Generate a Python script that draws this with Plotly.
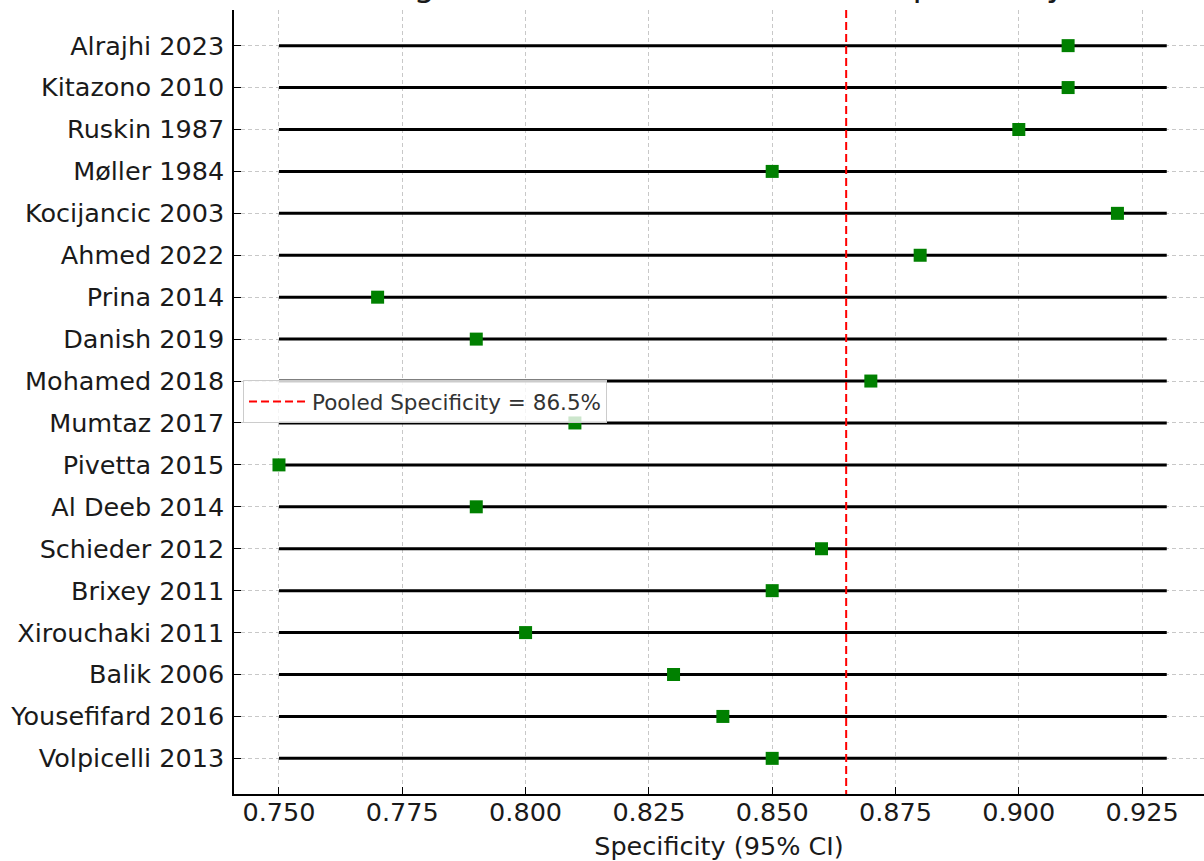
import plotly.graph_objects as go

studies = ["Alrajhi 2023", "Kitazono 2010", "Ruskin 1987", "Møller 1984", "Kocijancic 2003",
           "Ahmed 2022", "Prina 2014", "Danish 2019", "Mohamed 2018", "Mumtaz 2017",
           "Pivetta 2015", "Al Deeb 2014", "Schieder 2012", "Brixey 2011", "Xirouchaki 2011",
           "Balik 2006", "Yousefifard 2016", "Volpicelli 2013"]
specificity = [0.91, 0.91, 0.90, 0.85, 0.92, 0.88, 0.77, 0.79, 0.87, 0.81,
               0.75, 0.79, 0.86, 0.85, 0.80, 0.83, 0.84, 0.85]
ci_lower = [0.75] * 18
ci_upper = [0.93] * 18
pooled = 0.865
x_ticks = [0.750, 0.775, 0.800, 0.825, 0.850, 0.875, 0.900, 0.925]
title_text = "Diagnostic Studies with Pooled Specificity"

FONT = "DejaVu Sans"
pos = list(range(len(studies)))

line_x, line_y = [], []
for i, (lo, hi) in enumerate(zip(ci_lower, ci_upper)):
    line_x += [lo, hi, None]
    line_y += [i, i, None]

fig = go.Figure()
fig.add_trace(go.Scatter(x=line_x, y=line_y, mode="lines",
                         line=dict(color="black", width=3), showlegend=False, hoverinfo="skip"))
fig.add_trace(go.Scatter(x=[pooled, pooled], y=[-0.85, len(studies) - 1 + 0.85], mode="lines",
                         line=dict(color="red", width=2, dash="8px,4px"),
                         name="Pooled Specificity = 86.5%"))
fig.add_trace(go.Scatter(x=specificity, y=pos, mode="markers",
                         marker=dict(symbol="square", size=13, color="green",
                                     line=dict(width=0)),
                         showlegend=False))

fig.update_layout(
    width=1204, height=861,
    margin=dict(l=234, r=0, t=10, b=67),
    plot_bgcolor="white", paper_bgcolor="white",
    font=dict(family=FONT, size=25.5, color="#1a1a1a"),
    showlegend=True,
    legend=dict(x=0.0093, y=0.528, xanchor="left", yanchor="top", itemwidth=58,
                bgcolor="rgba(255,255,255,0.8)", bordercolor="#cccccc", borderwidth=1,
                font=dict(family=FONT, size=21.5, color="#333333")),
    annotations=[dict(text=title_text, xref="paper", yref="paper", x=0.125, y=1,
                      xanchor="left", yanchor="bottom", yshift=3.5, showarrow=False,
                      font=dict(family=FONT, size=34, color="#1a1a1a"))],
)
fig.update_xaxes(range=[0.74088, 0.93755], tickvals=x_ticks,
                 ticktext=[f"{v:.3f}" for v in x_ticks],
                 ticks="inside", ticklen=7, tickcolor="black", tickwidth=1.3,
                 ticklabelstandoff=-5,
                 showline=True, linecolor="black", linewidth=1.5, mirror=False,
                 showgrid=True, gridcolor="#c8c8c8", griddash="4px,3px", gridwidth=1,
                 zeroline=False,
                 title=dict(text="Specificity (95% CI)", font=dict(family=FONT, size=25.5),
                            standoff=14))
fig.update_yaxes(range=[len(studies) - 1 + 0.85, -0.85], tickvals=pos, ticktext=studies,
                 ticks="inside", ticklen=7, tickcolor="black", tickwidth=1.3,
                 ticklabelstandoff=3,
                 showline=True, linecolor="black", linewidth=1.5, mirror=False,
                 showgrid=True, gridcolor="#c8c8c8", griddash="4px,3px", gridwidth=1,
                 zeroline=False)

fig.write_html("out.html", config={"displayModeBar": False},
               post_script="document.body.style.margin='0px';document.body.style.overflow='hidden';")
